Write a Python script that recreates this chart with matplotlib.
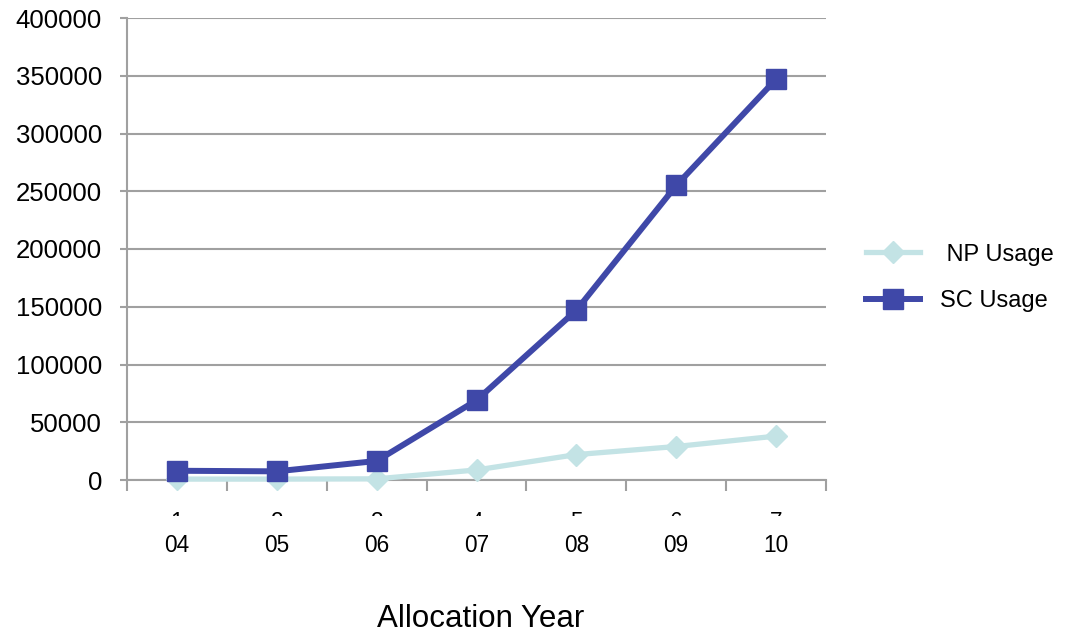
import matplotlib
matplotlib.use("Agg")
import matplotlib.pyplot as plt
from matplotlib.transforms import Bbox, TransformedBbox

plt.rcParams['font.family'] = ['Liberation Sans', 'DejaVu Sans']

years = ["04", "05", "06", "07", "08", "09", "10"]
index_labels = ["1", "2", "3", "4", "5", "6", "7"]
np_usage = [800, 800, 1000, 8700, 22000, 29000, 38000]
sc_usage = [8000, 7500, 16500, 69000, 147000, 255000, 347000]
yticks = [0, 50000, 100000, 150000, 200000, 250000, 300000, 350000, 400000]

W, H = 1071, 633
fig = plt.figure(figsize=(W / 100, H / 100), dpi=100)
ax = fig.add_axes([127 / W, 1 - 480 / H, (826 - 127) / W, (480 - 18) / H])

grid_c = "#a0a0a0"
x = list(range(len(years)))
ax.plot(x, np_usage, color="#c3e3e5", lw=3.8, marker="D", markersize=11,
        label=" NP Usage", clip_on=False, zorder=3)
ax.plot(x, sc_usage, color="#3f48a8", lw=4.3, marker="s", markersize=14,
        label="SC Usage", clip_on=False, zorder=4)

ax.set_xlim(-0.5, len(years) - 0.5)
ax.set_ylim(0, 400000)
ax.set_yticks(yticks)
ax.set_yticklabels([str(v) for v in yticks], fontsize=18.5)
ax.yaxis.grid(True, color=grid_c, lw=1.5)
ax.set_axisbelow(True)

ax.set_xticks(x)
ax.set_xticklabels(years, fontsize=16.3)
ax.tick_params(axis="x", length=0, pad=39)
ax.set_xticks([i - 0.5 for i in range(len(years) + 1)], minor=True)
ax.tick_params(axis="x", which="minor", length=8, width=1.5, color=grid_c, direction="out")
ax.tick_params(axis="y", length=5, width=1.5, color=grid_c, direction="out", pad=13)

for s in ["top", "right"]:
    ax.spines[s].set_visible(False)
for s in ["left", "bottom"]:
    ax.spines[s].set_color(grid_c)
    ax.spines[s].set_linewidth(1.5)

# clipped index row above the year labels
clip = TransformedBbox(Bbox([[0, (H - 516) / H], [1, (H - 500) / H]]), fig.transFigure)
trans = ax.get_xaxis_transform()
for i, lab in enumerate(index_labels):
    t = ax.text(i, -(511 - 480) / (480 - 18), lab, transform=trans, fontsize=16.3,
                ha="center", va="top")
    t.set_clip_box(clip)
    t.set_clip_on(True)

fig.text(481 / W, 1 - 619 / H, "Allocation Year", fontsize=22.5, ha="center", va="center")

fig.legend(loc="center left", bbox_to_anchor=(866 / W, 1 - 278 / H), frameon=False,
           fontsize=17, handlelength=2.3, labelspacing=1.05, handletextpad=0.85,
           borderaxespad=0, borderpad=0)

fig.savefig("out.png", dpi=100)
